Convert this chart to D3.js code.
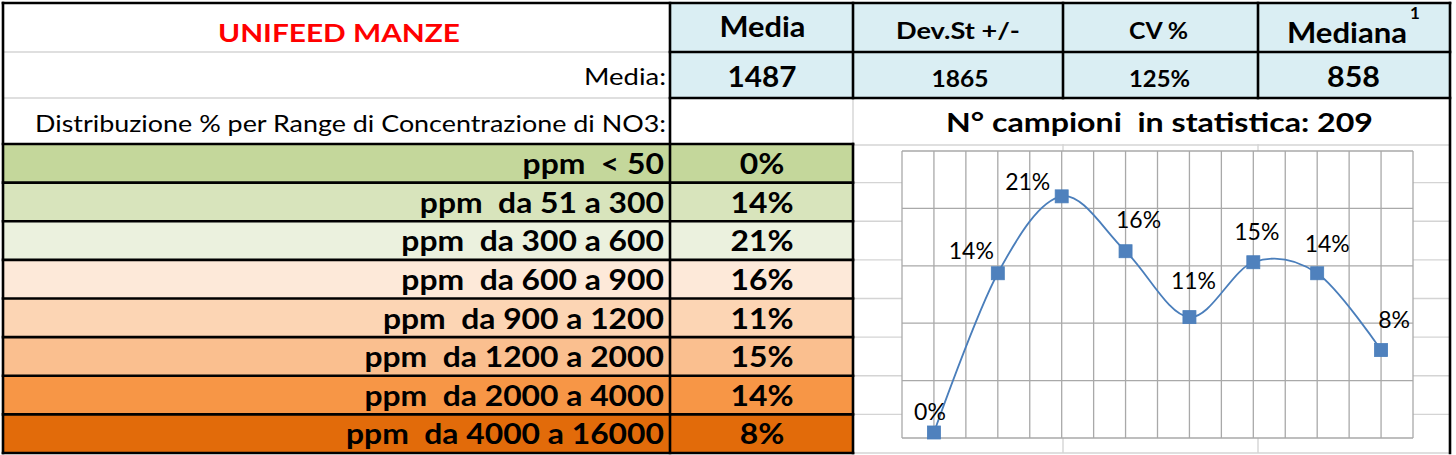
<!DOCTYPE html>
<html><head><meta charset="utf-8">
<script src="https://cdn.jsdelivr.net/npm/d3@7/dist/d3.min.js"></script>
<style>
html,body{margin:0;padding:0;background:#fff;}
svg{display:block;}
text{font-family:Lato,"Open Sans",sans-serif;white-space:pre;}
</style>
</head><body>
<svg id="c" width="1456" height="455"></svg>
<script>
// ---------- data ----------
const titleText = "UNIFEED MANZE";
const statHeaders = ["Media", "Dev.St +/-", "CV %", "Mediana"];
const statValues = ["1487", "1865", "125%", "858"];
const rowLabelMedia = "Media:";
const distLabel = "Distribuzione % per Range di Concentrazione di NO3:";
const sampleCount = 209;
const ranges = ["ppm  < 50", "ppm  da 51 a 300", "ppm  da 300 a 600", "ppm  da 600 a 900",
  "ppm  da 900 a 1200", "ppm  da 1200 a 2000", "ppm  da 2000 a 4000", "ppm  da 4000 a 16000"];
const shares = [0.0048, 0.1435, 0.2105, 0.1627, 0.1053, 0.1531, 0.1435, 0.0766];
const yTicks = [0, 0.05, 0.10, 0.15, 0.20, 0.25];

// ---------- styles / layout ----------
const rangeColors = ["#C4D79B", "#D8E4BC", "#EBF1DE", "#FDE9D9", "#FCD5B4", "#FABF8F", "#F79646", "#E26B0A"];
const headerBlue = "#DAEEF3";
const colX = [3, 670, 853, 1063, 1258, 1450];
const rowY = [3, 52, 98, 144];
const tableBottom = 453;
const labelOffsets = [[-4, -20.5], [-26.5, -22.7], [-34, -14.7], [13, -32], [4, -36], [3.5, -31], [10, -30], [13, -30]];

const svg = d3.select("#c");
const fmt = d3.format(".0%");

svg.append("rect").attr("width", 1456).attr("height", 455).attr("fill", "#fff");

// text helper: place with fixed width
function txt(g, s, opts) {
  const t = g.append("text").text(s)
    .attr("xml:space", "preserve")
    .style("white-space", "pre")
    .attr("font-size", opts.size)
    .attr("font-weight", opts.weight || "normal")
    .attr("y", opts.y)
    .style("fill", opts.fill || "#000");
  const nat = t.node().getComputedTextLength();
  const w = opts.w != null ? opts.w : nat * (opts.k || 1);
  t.attr("textLength", w).attr("lengthAdjust", "spacingAndGlyphs");
  let x;
  if (opts.anchor === "end") x = opts.x - w;
  else if (opts.anchor === "middle") x = opts.x - w / 2;
  else x = opts.x;
  t.attr("x", x);
  return t;
}

// ---------- fills ----------
const band = d3.scaleBand().domain(ranges).range([rowY[3], tableBottom]);
svg.append("rect").attr("x", colX[1]).attr("y", rowY[0]).attr("width", colX[5] - colX[1]).attr("height", rowY[2] - rowY[0]).attr("fill", headerBlue);
const rows = svg.append("g");
rows.selectAll("rect.l").data(ranges).join("rect")
  .attr("x", colX[0]).attr("y", d => band(d)).attr("width", colX[2] - colX[0]).attr("height", band.bandwidth())
  .attr("fill", (d, i) => rangeColors[i]);

// ---------- excel light gridlines ----------
const grey = svg.append("g").attr("stroke", "#D4D4D4").attr("stroke-width", 1.4);
function gl(g, x1, y1, x2, y2) { g.append("line").attr("x1", x1).attr("y1", y1).attr("x2", x2).attr("y2", y2); }
gl(grey, colX[0], rowY[1], colX[1], rowY[1]);
gl(grey, colX[0], rowY[2], colX[1], rowY[2]);
gl(grey, colX[2], rowY[2], colX[2], rowY[3]);
gl(grey, colX[2], rowY[3] + 1, colX[5], rowY[3] + 1);
ranges.forEach(d => { gl(grey, colX[2], band(d) + band.bandwidth(), colX[5], band(d) + band.bandwidth()); });
gl(grey, colX[3], rowY[3], colX[3], tableBottom);
gl(grey, colX[4], rowY[3], colX[4], tableBottom);

// ---------- chart ----------
const px = d3.scaleBand().domain(ranges).range([902, 1413]);
const py = d3.scaleLinear().domain([0, 0.25]).range([438, 151]);
const chart = svg.append("g");
chart.append("rect").attr("x", px.range()[0]).attr("y", py(0.25)).attr("width", px.range()[1] - px.range()[0])
  .attr("height", py(0) - py(0.25)).attr("fill", "#fff");
const cg = chart.append("g").attr("stroke", "#A9A9A9").attr("stroke-width", 1.3);
const vx = ranges.flatMap(d => [px(d), px(d) + px.bandwidth() / 2]).concat([px.range()[1]]);
vx.forEach(x => gl(cg, x, py(0.25), x, py(0)));
yTicks.forEach(t => gl(cg, px.range()[0], py(t), px.range()[1], py(t)));
const pts = shares.map((v, i) => [px(ranges[i]) + px.bandwidth() / 2, py(v)]);
chart.append("path").attr("d", d3.line().curve(d3.curveCatmullRom.alpha(0))(pts))
  .attr("fill", "none").attr("stroke", "#4A7EBB").attr("stroke-width", 1.8);
const ms = 13;
chart.selectAll("rect.m").data(pts).join("rect")
  .attr("x", d => d[0] - ms / 2).attr("y", d => d[1] - ms / 2).attr("width", ms).attr("height", ms)
  .attr("fill", "#4F81BD").attr("stroke", "#4A7EBB").attr("stroke-width", 0.8);
const lblSize = 23;
pts.forEach((p, i) => {
  txt(chart, fmt(shares[i]), { size: lblSize, x: p[0] + labelOffsets[i][0], y: p[1] + labelOffsets[i][1] + lblSize * 0.36, anchor: "middle" });
});

// ---------- black borders ----------
const blk = svg.append("g").attr("stroke", "#000").attr("stroke-width", 2.6).attr("stroke-linecap", "square");
gl(blk, colX[0], rowY[0], colX[5], rowY[0]);
gl(blk, colX[1], rowY[1], colX[5], rowY[1]);
gl(blk, colX[1], rowY[2], colX[5], rowY[2]);
gl(blk, colX[0], rowY[3], colX[2], rowY[3]);
ranges.forEach(d => gl(blk, colX[0], band(d) + band.bandwidth(), colX[2], band(d) + band.bandwidth()));
gl(blk, colX[0], rowY[0], colX[0], tableBottom);
gl(blk, colX[1], rowY[0], colX[1], tableBottom);
gl(blk, colX[2], rowY[0], colX[2], rowY[2]);
gl(blk, colX[2], rowY[3], colX[2], tableBottom);
gl(blk, colX[3], rowY[0], colX[3], rowY[2]);
gl(blk, colX[4], rowY[0], colX[4], rowY[2]);
gl(blk, colX[5], rowY[0], colX[5], tableBottom);

// ---------- texts ----------
const tg = svg.append("g");
txt(tg, titleText, { size: 25, weight: "bold", fill: "#FF0000", x: 339, y: 41.5, anchor: "middle", w: 242 });
txt(tg, rowLabelMedia, { size: 24, x: 666, y: 85, anchor: "end", w: 82 });
txt(tg, distLabel, { size: 24, x: 666, y: 132, anchor: "end", w: 631 });

const headCx = [762.5, 958, 1158.5, 1346.5];
txt(tg, statHeaders[0], { size: 28, weight: "bold", x: headCx[0], y: 37.3, anchor: "middle", w: 86 });
txt(tg, statHeaders[1], { size: 23, weight: "bold", x: headCx[1], y: 39.3, anchor: "middle", w: 124 });
txt(tg, statHeaders[2], { size: 23, weight: "bold", x: headCx[2], y: 39.3, anchor: "middle", w: 59 });
txt(tg, statHeaders[3], { size: 28, weight: "bold", x: 1287, y: 42.7, anchor: "start", w: 120 });
txt(tg, "1", { size: 17, weight: "bold", x: 1410, y: 19, anchor: "start" });

txt(tg, statValues[0], { size: 29, weight: "bold", x: 762, y: 87.3, anchor: "middle", w: 69 });
txt(tg, statValues[1], { size: 23, weight: "bold", x: 960, y: 87.3, anchor: "middle", w: 57 });
txt(tg, statValues[2], { size: 23, weight: "bold", x: 1159.5, y: 87.3, anchor: "middle", w: 61 });
txt(tg, statValues[3], { size: 29, weight: "bold", x: 1353.5, y: 87.3, anchor: "middle", w: 53 });

txt(tg, "N° campioni  in statistica: " + sampleCount, { size: 27, weight: "bold", x: 946, y: 132, anchor: "start", w: 427 });

// table labels: common compression so longest label matches
const probe = tg.append("text").attr("xml:space", "preserve").style("white-space", "pre")
  .attr("font-size", 28).attr("font-weight", "bold").text(ranges[7]);
const kLab = 318 / probe.node().getComputedTextLength();
probe.remove();
ranges.forEach((d, i) => {
  const cy = band(d) + band.bandwidth() / 2 + 10.8;
  txt(tg, d, { size: 28, weight: "bold", x: 664, y: cy, anchor: "end", k: kLab });
  txt(tg, fmt(shares[i]), { size: 28, weight: "bold", x: 762, y: cy, anchor: "middle", k: kLab });
});
</script>
</body></html>
